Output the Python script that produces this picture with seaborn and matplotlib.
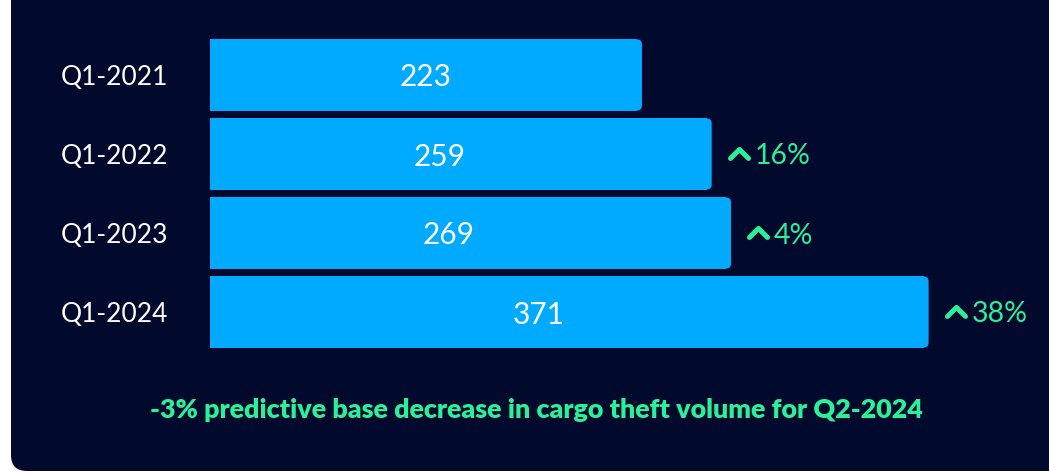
import numpy as np
import pandas as pd
import matplotlib
matplotlib.use("Agg")
import matplotlib.pyplot as plt
import seaborn as sns
from matplotlib.patches import FancyBboxPatch
from matplotlib.path import Path
from matplotlib.markers import MarkerStyle
from matplotlib.transforms import IdentityTransform

# ── data ────────────────────────────────────────────
quarters = ["Q1-2021", "Q1-2022", "Q1-2023", "Q1-2024"]
thefts = [223, 259, 269, 371]
growth_pct = [None, 16, 4, 38]
footnote = "-3% predictive base decrease in cargo theft volume for Q2-2024"

# ── colours ─────────────────────────────────────────
NAVY = "#010A2D"
BLUE = "#00AAFF"
GREEN = "#2BF09A"

df = pd.DataFrame({"quarter": quarters, "thefts": thefts})

sns.set_theme(style="white")
plt.rcParams["font.family"] = ["Lato", "DejaVu Sans"]

W, H, DPI = 1049, 474, 100
fig = plt.figure(figsize=(W / DPI, H / DPI), dpi=DPI, facecolor="white")

# dark panel with rounded corners (pixel coords), behind the axes
panel = FancyBboxPatch((11, 3), W + 40, H + 40,
                       boxstyle="round,pad=0,rounding_size=16",
                       transform=IdentityTransform(), facecolor=NAVY,
                       edgecolor="none", zorder=-5)
fig.patches.append(panel)

# axes placed in pixels
ax_left, ax_top, ax_bottom = 210, 35.5, 351.5
xmax = 430
px_per_unit = 1.937
ax_w = xmax * px_per_unit
ax = fig.add_axes([ax_left / W, (H - ax_bottom) / H, ax_w / W, (ax_bottom - ax_top) / H])
ax.set_facecolor("none")

sns.barplot(data=df, y="quarter", x="thefts", orient="h", color=BLUE,
            width=0.9, saturation=1, ax=ax, zorder=2)

ax.set_xlim(0, xmax)
ax.set_ylim(len(quarters) - 0.5, -0.5)

# round the right-hand corners of each bar
r_px = 5
y_per_px = len(quarters) / (ax_bottom - ax_top)
x_per_px = 1 / px_per_unit
r = r_px * x_per_px
for p in ax.patches[:]:
    x0, y0, w, h = p.get_x(), p.get_y(), p.get_width(), p.get_height()
    rb = FancyBboxPatch((x0, y0), w, h,
                        boxstyle=f"round,pad=0,rounding_size={r}",
                        mutation_aspect=y_per_px / x_per_px,
                        facecolor=BLUE, edgecolor="none", zorder=2)
    ax.add_patch(rb)
    p.set_width(w - r)
    p.set_edgecolor("none")

# value labels inside bars (rows with a growth badge sit a bit left of centre)
for i, (v, g) in enumerate(zip(thefts, growth_pct)):
    xpos = v / 2 if g is None else v * 0.4575
    ax.text(xpos, i, str(v), ha="center", va="center_baseline",
            color="white", fontsize=21.5, zorder=3)

# growth labels with chevron
chevron = Path([(-1, -0.55), (0, 0.45), (1, -0.55)],
               [Path.MOVETO, Path.LINETO, Path.LINETO])
chev_marker = MarkerStyle(chevron, fillstyle="none", capstyle="round", joinstyle="round")
for i, (v, g) in enumerate(zip(thefts, growth_pct)):
    if g is None:
        continue
    ax.plot(v + 27 * x_per_px, i - 1 * y_per_px, marker=chev_marker, markersize=13,
            markeredgewidth=3.6, color=GREEN, linestyle="none", zorder=3,
            clip_on=False)
    ax.text(v + 43 * x_per_px, i, f"{g}%", ha="left", va="center_baseline",
            color=GREEN, fontsize=20.5, zorder=3, clip_on=False)

ax.set_xlabel("")
ax.set_ylabel("")
ax.set_xticks([])
ax.tick_params(axis="y", length=0, pad=30, labelsize=19, labelcolor="white")
sns.despine(ax=ax, left=True, bottom=True)

fig.text(536 / W, 1 - 410 / H, footnote, ha="center", va="center",
         color=GREEN, fontsize=19.4, fontweight="heavy")

fig.savefig("out.png", dpi=DPI, facecolor="white")
